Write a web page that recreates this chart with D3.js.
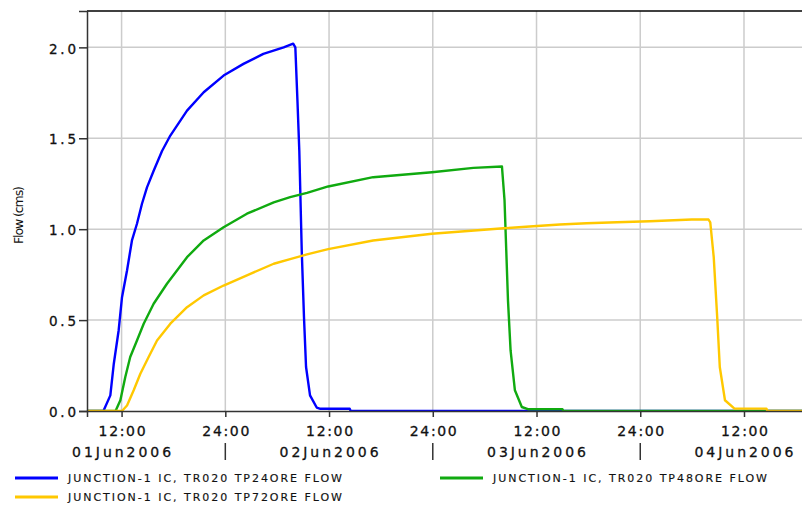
<!DOCTYPE html>
<html>
<head>
<meta charset="utf-8">
<script src="https://cdn.jsdelivr.net/npm/d3@7"></script>
<style>
  html, body { margin: 0; padding: 0; background: #fff; }
  svg { display: block; }
  text { font-family: "DejaVu Sans", Verdana, sans-serif; fill: #111; }
</style>
</head>
<body>
<svg id="chart" width="802" height="507"></svg>
<script>
// Hours after 01 Jun 2006 08:00 and flow (cms) for each junction inflow series
const tp24Hours = [0, 1.9, 2.7, 3.1, 3.66, 4.05, 4.63, 5.2, 5.78, 6.36, 6.94, 7.7, 8.68, 9.64, 11.57, 13.5, 15.8, 18.1, 20.4, 22.75, 23.85, 24.1, 24.35, 24.56, 24.84, 25.1, 25.34, 25.8, 26.57, 27.0, 30.4, 30.5, 83];
const tp24Flow  = [0, 0, 0.086, 0.26, 0.443, 0.626, 0.773, 0.938, 1.03, 1.14, 1.23, 1.32, 1.43, 1.515, 1.652, 1.753, 1.845, 1.909, 1.964, 2.0, 2.02, 2.0, 1.7, 1.43, 0.883, 0.517, 0.242, 0.086, 0.019, 0.012, 0.012, 0, 0];

const tp48Hours = [0, 3.3, 3.86, 4.43, 5.0, 5.78, 6.56, 7.71, 9.25, 11.57, 13.5, 15.8, 18.5, 21.6, 23.5, 25.45, 27.9, 33.1, 39.9, 44.7, 48.0, 48.3, 48.5, 48.7, 49.0, 49.5, 50.3, 51.0, 55.0, 55.1, 83];
const tp48Flow  = [0, 0, 0.059, 0.187, 0.297, 0.388, 0.48, 0.59, 0.70, 0.846, 0.938, 1.011, 1.085, 1.148, 1.176, 1.2, 1.235, 1.286, 1.313, 1.337, 1.345, 1.158, 0.883, 0.607, 0.333, 0.114, 0.022, 0.01, 0.01, 0, 0];

const tp72Hours = [0, 4.05, 4.63, 5.4, 6.17, 7.13, 8.1, 9.64, 11.57, 13.5, 15.8, 18.5, 21.6, 23.5, 25.45, 27.9, 33.1, 39.9, 48.2, 51.2, 54.7, 57.8, 61.3, 65.1, 69.96, 71.9, 72.1, 72.5, 72.9, 73.2, 73.8, 74.9, 78.6, 78.7, 83];
const tp72Flow  = [0, 0, 0.03, 0.114, 0.205, 0.297, 0.388, 0.48, 0.571, 0.636, 0.69, 0.746, 0.81, 0.835, 0.861, 0.89, 0.938, 0.975, 1.005, 1.015, 1.026, 1.033, 1.038, 1.044, 1.053, 1.053, 1.038, 0.846, 0.517, 0.242, 0.059, 0.013, 0.013, 0, 0];

const seriesNames  = ["JUNCTION-1 IC, TR020 TP24ORE FLOW", "JUNCTION-1 IC, TR020 TP48ORE FLOW", "JUNCTION-1 IC, TR020 TP72ORE FLOW"];
const seriesColors = ["#0000ff", "#10aa10", "#ffc800"];

const yTicks = [0, 0.5, 1.0, 1.5, 2.0];
const dateLabels = ["01Jun2006", "02Jun2006", "03Jun2006", "04Jun2006"];

const HOUR = 3600e3;
const start = Date.UTC(2006, 5, 1, 8);
const toDate = h => new Date(start + h * HOUR);

const series = [
  { name: seriesNames[0], color: seriesColors[0], values: tp24Hours.map((h, i) => ({ t: toDate(h), v: tp24Flow[i] })) },
  { name: seriesNames[1], color: seriesColors[1], values: tp48Hours.map((h, i) => ({ t: toDate(h), v: tp48Flow[i] })) },
  { name: seriesNames[2], color: seriesColors[2], values: tp72Hours.map((h, i) => ({ t: toDate(h), v: tp72Flow[i] })) }
];

const svg = d3.select("#chart");
const plotLeft = 87, plotTop = 11, plotBottom = 411, plotRight = 804.5;

const x = d3.scaleUtc()
  .domain([toDate(0), toDate(83)])
  .range([plotLeft, plotRight]);
const y = d3.scaleLinear()
  .domain([0, 2.2])
  .range([plotBottom, plotTop]);

// 12-hour ticks: noon and midnight of each day in range
const halfDays = d3.utcHour.every(12).range(toDate(0), toDate(83));
const midnights = halfDays.filter(d => d.getUTCHours() === 0);
const noons = halfDays.filter(d => d.getUTCHours() === 12);

// grid
const grid = svg.append("g").attr("stroke", "#cccccc").attr("stroke-width", 1.5);
grid.selectAll("line.v").data(halfDays).join("line").attr("class", "v")
  .attr("x1", d => x(d)).attr("x2", d => x(d))
  .attr("y1", plotTop).attr("y2", plotBottom);
grid.selectAll("line.h").data(yTicks.filter(v => v > 0)).join("line").attr("class", "h")
  .attr("x1", plotLeft).attr("x2", 802)
  .attr("y1", d => y(d)).attr("y2", d => y(d));

// series lines
svg.append("clipPath").attr("id", "plot-clip")
  .append("rect").attr("x", plotLeft).attr("y", plotTop - 2)
  .attr("width", plotRight - plotLeft).attr("height", plotBottom - plotTop + 3);
const line = d3.line().x(d => x(d.t)).y(d => y(d.v));
svg.append("g").attr("clip-path", "url(#plot-clip)")
  .selectAll("path").data(series).join("path")
  .attr("d", d => line(d.values))
  .attr("fill", "none")
  .attr("stroke", d => d.color)
  .attr("stroke-width", 2.4)
  .attr("stroke-linejoin", "round");

// top frame
svg.append("line")
  .attr("x1", plotLeft).attr("x2", 802).attr("y1", plotTop).attr("y2", plotTop)
  .attr("stroke", "#000").attr("stroke-width", 1.5);

// y axis
const yAxis = svg.append("g")
  .attr("transform", `translate(${plotLeft},0)`)
  .call(d3.axisLeft(y).tickValues(yTicks).tickFormat(d3.format(".1f")).tickSize(8).tickPadding(3));
yAxis.select(".domain").attr("stroke", "#333").attr("stroke-width", 1.5);
yAxis.selectAll(".tick line").attr("stroke", "#333").attr("stroke-width", 1.5);
yAxis.selectAll(".tick text")
  .attr("font-size", 13.5)
  .attr("font-family", "DejaVu Sans")
  .attr("fill", "#111")
  .attr("stroke", "#111").attr("stroke-width", 0.3)
  .attr("dy", "0.42em")
  .attr("textLength", 27)
  .attr("lengthAdjust", "spacing");

// x axis: hour ticks
const xAxis = svg.append("g")
  .attr("transform", `translate(0,${plotBottom})`)
  .call(d3.axisBottom(x).tickValues(halfDays)
    .tickFormat(d => d.getUTCHours() === 0 ? "24:00" : "12:00")
    .tickSize(6).tickPadding(9));
xAxis.select(".domain").attr("stroke", "#333").attr("stroke-width", 1.5);
xAxis.selectAll(".tick line").attr("stroke", "#333").attr("stroke-width", 1.5);
xAxis.selectAll(".tick text")
  .attr("font-size", 14)
  .attr("font-family", "DejaVu Sans")
  .attr("fill", "#111")
  .attr("stroke", "#111").attr("stroke-width", 0.3)
  .attr("textLength", 47)
  .attr("lengthAdjust", "spacing");

// day row: date labels under noon, separators at midnight
const dayRow = svg.append("g");
dayRow.selectAll("text").data(noons).join("text")
  .attr("x", d => x(d)).attr("y", 457)
  .attr("text-anchor", "middle")
  .attr("font-size", 14)
  .attr("stroke", "#111").attr("stroke-width", 0.3)
  .attr("textLength", 99)
  .attr("lengthAdjust", "spacing")
  .text((d, i) => dateLabels[i]);
dayRow.selectAll("line").data(midnights).join("line")
  .attr("x1", d => x(d)).attr("x2", d => x(d))
  .attr("y1", 443).attr("y2", 460)
  .attr("stroke", "#333").attr("stroke-width", 1.5);

// y axis title
svg.append("text")
  .attr("transform", "translate(23,215) rotate(-90)")
  .attr("text-anchor", "middle")
  .attr("font-family", "Liberation Sans, Arial, sans-serif")
  .attr("font-size", 12.5)
  .attr("textLength", 58)
  .attr("lengthAdjust", "spacing")
  .text("Flow (cms)");

// legend
const legendPos = [
  { lx: 15, ly: 478 },
  { lx: 440, ly: 478 },
  { lx: 15, ly: 497 }
];
const legend = svg.append("g").selectAll("g").data(series).join("g")
  .attr("transform", (d, i) => `translate(${legendPos[i].lx},${legendPos[i].ly})`);
legend.append("line")
  .attr("x1", 0).attr("x2", 43).attr("y1", 0).attr("y2", 0)
  .attr("stroke", d => d.color).attr("stroke-width", 3);
legend.append("text")
  .attr("x", 53).attr("y", 4.3)
  .attr("font-size", 11)
  .attr("stroke", "#111").attr("stroke-width", 0.15)
  .attr("textLength", 274)
  .attr("lengthAdjust", "spacing")
  .text(d => d.name);
</script>
</body>
</html>
